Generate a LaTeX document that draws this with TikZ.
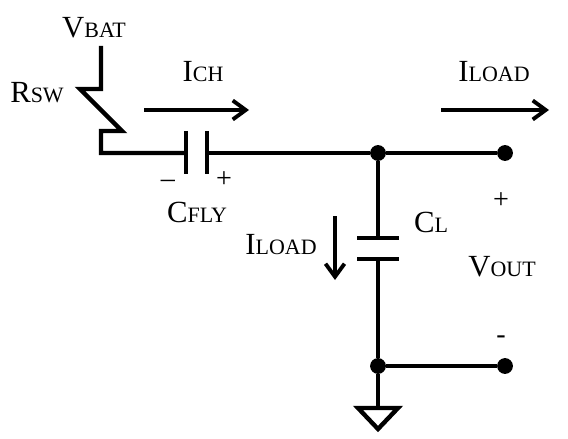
\documentclass[tikz,border=0pt]{standalone}
\usepackage{fontspec}
\setmainfont{Liberation Serif}
\usetikzlibrary{arrows.meta, positioning, calc}
\newcommand{\bigsmall}[2]{{\fontsize{17.5}{18}\selectfont #1}{\fontsize{12.5}{13}\selectfont #2}}
\tikzset{
	wire/.style = {line width=2.5pt, line cap=butt, line join=miter},
	plate/.style = {line width=2.5pt},
	flow/.style = {-{Straight Barb[length=2.6mm, width=3.8mm, line width=2.2pt]}, line width=2.2pt},
	dot/.style = {circle, fill=black, inner sep=0pt, minimum size=9pt},
	lab/.style = {anchor=base, inner sep=0pt},
	sign/.style = {font=\fontsize{16}{16}\selectfont, inner sep=0pt}
}
\begin{document}
\begin{tikzpicture}[x=0.02cm, y=-0.02cm]
	\useasboundingbox (0,0) rectangle (568,439);
	% supply and switch
	\coordinate (vtop) at (101,46);
	\coordinate (k1) at (101,89);
	\coordinate (k2) at (80,89);
	\coordinate (k3) at (122,131);
	\coordinate (k4) at (101,131);
	\coordinate (k5) at (101,153);
	% flying cap
	\coordinate (fl) at (186,153);
	\coordinate (fr) at (207,153);
	\coordinate (flt) at (186,131);
	\coordinate (flb) at (186,174);
	\coordinate (frt) at (207,131);
	\coordinate (frb) at (207,174);
	% output
	\node[dot] (ntop) at (378,153) {};
	\node[dot] (nout) at (505,153) {};
	\node[dot] (nbot) at (378,366) {};
	\node[dot] (ngnd) at (505,366) {};
	% load cap
	\coordinate (lt) at (378,238);
	\coordinate (lb) at (378,259);
	\coordinate (ltl) at (357,238);
	\coordinate (ltr) at (399,238);
	\coordinate (lbl) at (357,259);
	\coordinate (lbr) at (399,259);
	% ground
	\coordinate (gt) at (378,408);
	\coordinate (gl) at (358,408);
	\coordinate (gr) at (398,408);
	\coordinate (gb) at (378,429);
	% current arrows
	\coordinate (cha) at (144,110);
	\coordinate (chb) at (249,110);
	\coordinate (loa) at (441,110);
	\coordinate (lob) at (549,110);
	\coordinate (dna) at (335,216);
	\coordinate (dnb) at (335,280);

	\draw[wire] (vtop) -- (k1) -- (k2) -- (k3) -- (k4) -- (k5) -- (fl);
	\draw[plate] (flt) -- (flb);
	\draw[plate] (frt) -- (frb);
	\draw[wire] (fr) -- (ntop);
	\draw[wire] (ntop) -- (nout);
	\draw[wire] (ntop) -- (lt);
	\draw[plate] (ltl) -- (ltr);
	\draw[plate] (lbl) -- (lbr);
	\draw[wire] (lb) -- (nbot);
	\draw[wire] (nbot) -- (ngnd);
	\draw[wire] (nbot) -- (gt);
	\draw[wire] (gl) -- (gr) -- (gb) -- cycle;
	\draw[flow] (cha) -- (chb);
	\draw[flow] (loa) -- (lob);
	\draw[flow] (dna) -- (dnb);

	\node[lab] (vbat) at (94,38) {\bigsmall{V}{BAT}};
	\node[lab] (rsw) at (37,103) {\bigsmall{R}{SW}};
	\node[lab] (ich) at (203,82) {\bigsmall{I}{CH}};
	\node[lab] (ilo) at (494,82) {\bigsmall{I}{LOAD}};
	\node[lab] (ild) at (281,254) {\bigsmall{I}{LOAD}};
	\node[lab] (cfly) at (197,222) {\bigsmall{C}{FLY}};
	\node[lab] (cl) at (431,232) {\bigsmall{C}{L}};
	\node[lab] (vout) at (502,276) {\bigsmall{V}{OUT}};
	\node[sign] (fm) at (168,184) {\textendash};
	\node[sign] (fp) at (224,180) {+};
	\node[sign] (op) at (501,201) {+};
	\node[sign] (om) at (501,340) {-};
\end{tikzpicture}
\end{document}
